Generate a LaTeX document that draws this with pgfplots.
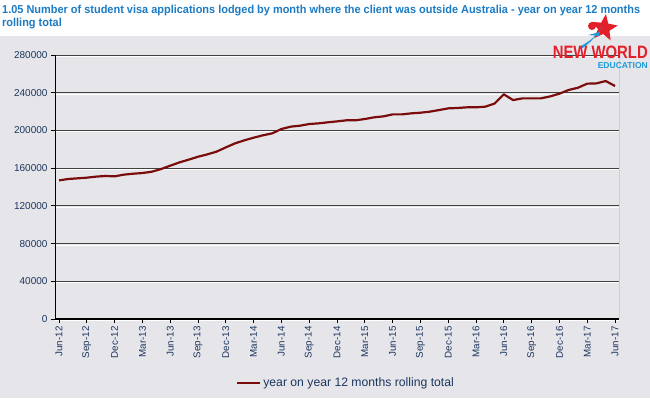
\documentclass[border=0pt]{standalone}
\usepackage{pgfplots}
\pgfplotsset{compat=1.18}
\usepackage{fontspec}
\setmainfont{Liberation Sans}
\usetikzlibrary{shapes.geometric}
\definecolor{bg}{HTML}{E6E6EA}
\definecolor{navy}{HTML}{1C355E}
\definecolor{ttl}{HTML}{1B7BC4}
\definecolor{linec}{HTML}{7A0C0C}
\definecolor{logored}{HTML}{E3202A}
\definecolor{logoblue}{HTML}{1E9AD8}
\pgfplotstableread{
i v
0 147000
1 148500
2 149200
3 149900
4 151000
5 151700
6 151300
7 153100
8 154100
9 154800
10 156200
11 159000
12 162600
13 166100
14 169000
15 172100
16 174600
17 177500
18 182000
19 186300
20 189500
21 192300
22 194800
23 196900
24 201500
25 204000
26 205000
27 206800
28 207500
29 208600
30 209600
31 210700
32 210700
33 212100
34 213900
35 214900
36 217000
37 217000
38 218100
39 218800
40 219900
41 221600
42 223400
43 223800
44 224500
45 224500
46 225200
47 228500
48 238300
49 232200
50 234000
51 234000
52 234000
53 236100
54 239000
55 242900
56 245300
57 249600
58 249900
59 252400
60 247100
}\visadata
\newsavebox\titleA
\newsavebox\titleB
\newcommand\tsx{0.9}
\begin{document}
\sbox\titleA{\fontsize{11.5bp}{13bp}\selectfont\bfseries\color{ttl}1.05 Number of student visa applications lodged by month where the client was outside Australia - year on year 12 months}%
\sbox\titleB{\fontsize{11.5bp}{13bp}\selectfont\bfseries\color{ttl}rolling total}%
\pgfmathsetmacro\tsx{640.3/(\the\wd\titleA)}%
\begin{tikzpicture}[x=1bp,y=1bp]
\path[use as bounding box] (0,0) rectangle (650,398);
\fill[bg] (0,0) rectangle (650,362);
\node[anchor=base west, inner sep=0] at (2,385) {\scalebox{\tsx}[1]{\usebox\titleA}};
\node[anchor=base west, inner sep=0] at (2,372) {\scalebox{\tsx}[1]{\usebox\titleB}};
\begin{axis}[
  at={(55bp,79bp)}, anchor=south west,
  scale only axis, width=564bp, height=264bp,
  xmin=-0.43, xmax=60.43, ymin=0, ymax=280000,
  ytick={0,40000,...,280000},
  scaled y ticks=false,
  yticklabel style={/pgf/number format/fixed, /pgf/number format/1000 sep={}, /pgf/number format/assume math mode=true, font=\fontsize{10bp}{12bp}\selectfont, text=navy},
  xtick={0,3,...,60},
  xticklabels={Jun-12,Sep-12,Dec-12,Mar-13,Jun-13,Sep-13,Dec-13,Mar-14,Jun-14,Sep-14,Dec-14,Mar-15,Jun-15,Sep-15,Dec-15,Mar-16,Jun-16,Sep-16,Dec-16,Mar-17,Jun-17},
  xticklabel style={rotate=90, anchor=east, font=\fontsize{9.8bp}{11bp}\selectfont, text=navy},
  tick align=outside, major tick length=4bp,
  xtick pos=bottom, ytick pos=left,
  tick style={black, line width=0.8pt},
  axis line style={draw=none},
  axis background/.style={fill=bg},
  ymajorgrids,
  major grid style={draw=black!75, line width=1pt, postaction={draw=white, line width=0.9pt, transform canvas={yshift=-1.4bp}}},
  legend style={at={(0.516,-0.242)}, anchor=center, draw=none, fill=none, font=\fontsize{12.2bp}{14bp}\selectfont, text=navy},
  legend image code/.code={\draw[linec, line width=2.2pt] (0bp,0bp) -- (23bp,0bp);},
]
\addplot[linec, line width=2.2pt, line join=round] table[x=i, y=v] {\visadata};
\addlegendentry{year on year 12 months rolling total}
\draw[black!75, line width=1pt] (rel axis cs:0,1) -- (rel axis cs:1,1) -- (rel axis cs:1,0);
\draw[black, line width=1.2pt] (rel axis cs:0,1) -- (rel axis cs:0,0) -- (rel axis cs:1,0);
\end{axis}
% logo
\node[star, star points=5, star point ratio=2.3, fill=logored, minimum size=28bp, inner sep=0, rotate=-8] at (604,370) {};
\fill[logoblue] (581,352) .. controls (590,357) and (598,363) .. (603,373) .. controls (596,361) and (589,354) .. (581,349) -- cycle;
\fill[logoblue] (588,363) -- (600,366) -- (599,362) -- cycle;
\fill[logored] (592,372) circle (4bp);
\node[anchor=south east, inner sep=0] at (648,339) {\resizebox{95bp}{12.5bp}{\bfseries\color{logored}NEW WORLD}};
\node[anchor=north east, inner sep=0] at (648,335.5) {\resizebox{50bp}{6bp}{\bfseries\color{logoblue}EDUCATION}};
\end{tikzpicture}
\end{document}
